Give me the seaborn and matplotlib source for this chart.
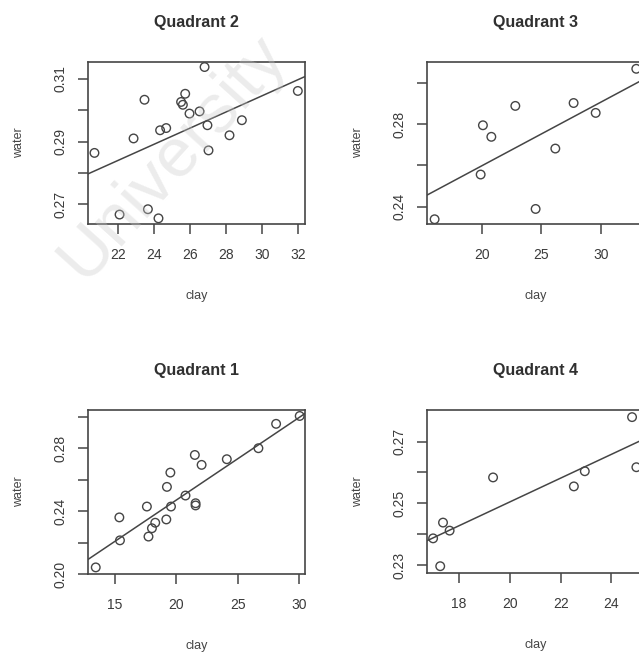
import numpy as np
import pandas as pd
import matplotlib
matplotlib.use("Agg")
import matplotlib.pyplot as plt
import seaborn as sns

# ---- data ----
q2_clay = [20.66, 22.06, 22.84, 23.45, 23.64, 24.23, 24.32, 24.66, 25.49, 25.59,
           25.72, 25.96, 26.52, 26.80, 26.96, 27.02, 28.19, 28.88, 32.0]
q2_water = [0.2864, 0.2668, 0.2910, 0.3033, 0.2685, 0.2656, 0.2936, 0.2943, 0.3026, 0.3017,
            0.3052, 0.2989, 0.2996, 0.3137, 0.2952, 0.2872, 0.2920, 0.2968, 0.3061]

q3_clay = [16.01, 19.89, 20.08, 20.79, 22.81, 24.52, 26.18, 27.72, 29.58, 33.0]
q3_water = [0.2339, 0.2556, 0.2795, 0.2739, 0.2889, 0.2389, 0.2682, 0.2903, 0.2855, 0.3069]

q1_clay = [13.44, 15.36, 15.41, 17.60, 17.73, 18.01, 18.28, 19.18, 19.23, 19.51,
           19.56, 20.74, 21.56, 21.56, 21.50, 22.05, 24.10, 26.67, 28.11, 30.03]
q1_water = [0.2042, 0.2360, 0.2214, 0.2429, 0.2238, 0.2291, 0.2326, 0.2347, 0.2554, 0.2645,
            0.2429, 0.2499, 0.2450, 0.2436, 0.2757, 0.2694, 0.2730, 0.2800, 0.2955, 0.3005]

q4_clay = [16.98, 17.37, 17.63, 17.26, 19.34, 22.52, 22.95, 24.81, 24.98]
q4_water = [0.2387, 0.2438, 0.2412, 0.2297, 0.2584, 0.2555, 0.2604, 0.2779, 0.2617]

# fitted lines (intercept, slope)
q2_fit = (0.2278, 0.002558)
q3_fit = (0.1983, 0.003079)
q1_fit = (0.1419, 0.005258)
q4_fit = (0.1735, 0.003849)

titles = ["Quadrant 2", "Quadrant 3", "Quadrant 1", "Quadrant 4"]
q2_xticks = [22, 24, 26, 28, 30, 32]
q3_xticks = [20, 25, 30]
q1_xticks = [15, 20, 25, 30]
q4_xticks = [18, 20, 22, 24]
q2_yticks = [0.27, 0.28, 0.29, 0.30, 0.31]
q3_yticks = [0.24, 0.26, 0.28, 0.30]
q1_yticks = [0.20, 0.22, 0.24, 0.26, 0.28, 0.30]
q4_yticks = [0.23, 0.24, 0.25, 0.26, 0.27]
q2_ylabels = ["0.27", "", "0.29", "", "0.31"]
q3_ylabels = ["0.24", "", "0.28", ""]
q1_ylabels = ["0.20", "", "0.24", "", "0.28", ""]
q4_ylabels = ["0.23", "", "0.25", "", "0.27"]

sns.set_theme(style="white")
plt.rcParams['font.family'] = ['Liberation Sans', 'DejaVu Sans']

W, H = 639, 654
fig = plt.figure(figsize=(W / 100, H / 100), dpi=100)
fig.patch.set_facecolor("white")

INK = "#454545"

panels = [
    (titles[0], q2_clay, q2_water, q2_fit, q2_xticks, q2_yticks, q2_ylabels,
     (88, 62, 305, 224), (20.3, 32.4), (0.2638, 0.3153)),
    (titles[1], q3_clay, q3_water, q3_fit, q3_xticks, q3_yticks, q3_ylabels,
     (427, 62, 644, 224), (15.37, 33.65), (0.2316, 0.3102)),
    (titles[2], q1_clay, q1_water, q1_fit, q1_xticks, q1_yticks, q1_ylabels,
     (88, 410, 305, 574), (12.81, 30.46), (0.2000, 0.3043)),
    (titles[3], q4_clay, q4_water, q4_fit, q4_xticks, q4_yticks, q4_ylabels,
     (427, 410, 644, 573), (16.74, 25.28), (0.2275, 0.2802)),
]

for (title, xs, ys, fit, xt, yt, yl, box, xlim, ylim) in panels:
    l, t, r, b = box
    ax = fig.add_axes([l / W, 1 - b / H, (r - l) / W, (b - t) / H])
    ax.set_facecolor("none")
    df = pd.DataFrame({"clay": xs, "water": ys})
    sns.scatterplot(data=df, x="clay", y="water", ax=ax, marker="o", s=38,
                    facecolors="none", edgecolor=INK, linewidth=1.0, zorder=3)
    ax.set_xticks(xt)
    ax.set_xticklabels([str(v) for v in xt])
    ax.set_yticks(yt)
    ax.set_yticklabels(yl)
    ax.set_xlim(*xlim)
    ax.set_ylim(*ylim)
    ax.axline((xlim[0], fit[0] + fit[1] * xlim[0]), slope=fit[1], color=INK,
              linewidth=1.1, zorder=2)
    for s in ax.spines.values():
        s.set_color(INK)
        s.set_linewidth(1.2)
    ax.tick_params(axis="both", which="both", direction="out", length=7.5,
                   width=1.1, color=INK, labelcolor="#3a3a3a", labelsize=10,
                   bottom=True, left=True)
    ax.tick_params(axis="x", pad=10)
    ax.tick_params(axis="y", pad=7, labelrotation=90)
    for lab in ax.get_yticklabels():
        lab.set_va("center")
    hpx = b - t
    wpx = r - l
    ax.set_xlabel("clay", fontsize=9, color="#444444")
    ax.xaxis.set_label_coords(0.5, -66 / hpx)
    ax.set_ylabel("water", fontsize=9, color="#444444")
    ax.yaxis.set_label_coords(-63 / wpx, 0.5)
    ax.text(0.5, 1 + 40 / hpx, title, transform=ax.transAxes, ha="center",
            va="center", fontsize=11.5, fontweight="bold", color="#303030")

# faint watermark
fig.text(0.27, 0.76, "University", rotation=48, rotation_mode="anchor",
         ha="center", va="center", fontsize=50, color="#c8c8c8", alpha=0.35,
         zorder=10)

fig.savefig("out.png", dpi=100, facecolor="white")
